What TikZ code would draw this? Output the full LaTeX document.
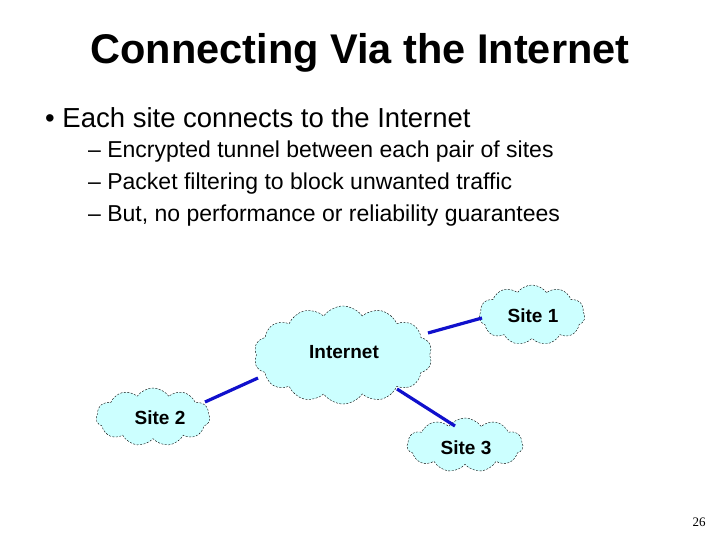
\documentclass[tikz,border=0pt]{standalone}
\usepackage{fontspec}
\setmainfont{Liberation Sans}
\newfontfamily\timesf{Liberation Serif}
\usetikzlibrary{shapes.symbols,backgrounds}
\definecolor{cloudc}{HTML}{CCFFFF}
\definecolor{linkc}{HTML}{1010CC}
\tikzset{
  cl/.style={cloud, draw=black, dashed, dash pattern=on 2pt off 1.5pt, fill=cloudc, cloud puffs=#1, cloud puff arc=110, aspect=1.8, inner sep=0pt},
  lbl/.style={font=\fontsize{19}{22}\selectfont\bfseries, inner sep=0pt},
  lnk/.style={draw=linkc, line width=3.2pt},
  txt/.style={anchor=west, inner sep=0pt}
}
\begin{document}
\begin{tikzpicture}[x=1pt,y=-1pt]
\useasboundingbox (0,0) rectangle (720,540);
\node[font=\fontsize{41.5}{44}\selectfont\bfseries] (title) at (360,53) {Connecting Via the Internet};
\node[txt, font=\fontsize{27.5}{30}\selectfont] (b1) at (45,118) {\textbullet\ Each site connects to the Internet};
\node[txt, font=\fontsize{23}{26}\selectfont] (s1t) at (88,152) {-- Encrypted tunnel between each pair of sites};
\node[txt, font=\fontsize{23}{26}\selectfont] (s2t) at (88,184) {-- Packet filtering to block unwanted traffic};
\node[txt, font=\fontsize{23}{26}\selectfont] (s3t) at (88,216) {-- But, no performance or reliability guarantees};
\node[cl=14, minimum width=178pt, minimum height=98pt] (inet) at (343,355) {};
\node[lbl] (inetl) at (344,352) {Internet};
\node[cl=11, minimum width=106pt, minimum height=60pt] (site1) at (532,315) {};
\node[lbl] (site1l) at (533,316) {Site 1};
\node[cl=11, minimum width=114pt, minimum height=58pt] (site2) at (153,417) {};
\node[lbl] (site2l) at (160,418) {Site 2};
\node[cl=11, minimum width=116pt, minimum height=54pt] (site3) at (465,445) {};
\node[lbl] (site3l) at (466,448) {Site 3};
\coordinate (e1a) at (428,333); \coordinate (e1b) at (482,318);
\coordinate (e2a) at (258,378); \coordinate (e2b) at (205,402);
\coordinate (e3a) at (397,389); \coordinate (e3b) at (455,426);
\draw[lnk] (e1a) -- (e1b);
\draw[lnk] (e2a) -- (e2b);
\draw[lnk] (e3a) -- (e3b);
\node[font=\timesf\fontsize{13}{15}\selectfont] (pg) at (699,522) {26};
\end{tikzpicture}
\end{document}
